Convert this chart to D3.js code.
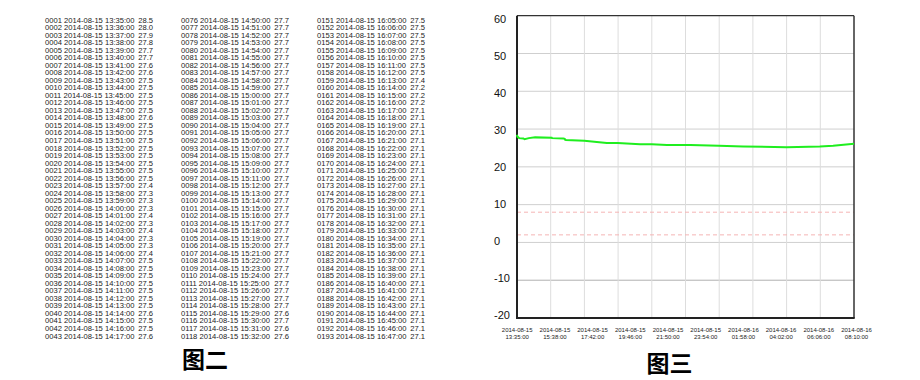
<!DOCTYPE html>
<html>
<head>
<meta charset="utf-8">
<script src="https://cdn.jsdelivr.net/npm/d3@7"></script>
<style>
  html, body { margin: 0; padding: 0; background: #fff; }
  svg { display: block; }
  .tbl { font-family: "Liberation Sans", Arial, sans-serif; font-size: 7.6px; fill: #222; }
  .ylab { font-family: "Liberation Sans", Arial, sans-serif; font-size: 11px; fill: #111; }
  .xlab { font-family: "Liberation Sans", Arial, sans-serif; font-size: 6px; fill: #222; }
  .cap { font-family: "Noto Sans CJK SC", sans-serif; font-size: 23px; font-weight: bold; fill: #000; }
</style>
</head>
<body>
<svg id="chart" width="920" height="380"></svg>
<script>
// ---------------- Data ----------------
// Left text listing (图二): three blocks of consecutive 1-minute readings
const tableStartIds = [1, 76, 151];
const tableStartTimes = ["2014-08-15 13:35:00", "2014-08-15 14:50:00", "2014-08-15 16:05:00"];
const tableValues1 = [28.5, 28.0, 27.9, 27.8, 27.7, 27.7, 27.6, 27.6, 27.5, 27.5,
                      27.5, 27.5, 27.5, 27.6, 27.5, 27.5, 27.5, 27.5, 27.5, 27.5,
                      27.5, 27.5, 27.4, 27.3, 27.3, 27.3, 27.4, 27.3, 27.4, 27.3,
                      27.3, 27.4, 27.5, 27.5, 27.5, 27.5, 27.5, 27.5, 27.5, 27.6,
                      27.5, 27.5, 27.6];
const tableValues2 = [27.7, 27.7, 27.7, 27.7, 27.7, 27.7, 27.7, 27.7, 27.7, 27.7,
                      27.7, 27.7, 27.7, 27.7, 27.7, 27.7, 27.7, 27.7, 27.7, 27.7,
                      27.7, 27.7, 27.7, 27.7, 27.7, 27.7, 27.7, 27.7, 27.7, 27.7,
                      27.7, 27.7, 27.7, 27.7, 27.7, 27.7, 27.7, 27.7, 27.7, 27.6,
                      27.7, 27.6, 27.6];
const tableValues3 = [27.5, 27.5, 27.5, 27.5, 27.5, 27.5, 27.5, 27.5, 27.4, 27.2,
                      27.2, 27.2, 27.1, 27.1, 27.1, 27.1, 27.1, 27.1, 27.1, 27.1,
                      27.1, 27.1, 27.1, 27.1, 27.1, 27.1, 27.1, 27.1, 27.1, 27.1,
                      27.1, 27.1, 27.1, 27.1, 27.1, 27.1, 27.1, 27.1, 27.1, 27.1,
                      27.1, 27.1, 27.1];

// Line chart (图三): readings estimated from the curve
const lineTimes = ["2014-08-15 13:35:00", "2014-08-15 13:36:00", "2014-08-15 13:42:00", "2014-08-15 13:56:00",
                   "2014-08-15 14:00:00", "2014-08-15 14:14:00", "2014-08-15 14:35:00", "2014-08-15 15:30:00",
                   "2014-08-15 15:31:00", "2014-08-15 16:08:00", "2014-08-15 16:13:00", "2014-08-15 16:14:00",
                   "2014-08-15 16:17:00", "2014-08-15 17:18:00", "2014-08-15 17:59:00", "2014-08-15 18:32:00",
                   "2014-08-15 19:08:00", "2014-08-15 20:22:00", "2014-08-15 21:01:00", "2014-08-15 21:51:00",
                   "2014-08-15 23:08:00", "2014-08-15 23:40:00", "2014-08-16 00:43:00", "2014-08-16 02:03:00",
                   "2014-08-16 04:27:00", "2014-08-16 06:17:00", "2014-08-16 07:01:00", "2014-08-16 08:10:00"];
const lineValues = [28.5, 28.0, 27.6, 27.5,
                    27.3, 27.6, 27.8, 27.7,
                    27.6, 27.5, 27.4, 27.2,
                    27.1, 26.9, 26.6, 26.3,
                    26.3, 26.0, 26.0, 25.8,
                    25.8, 25.7, 25.6, 25.4,
                    25.2, 25.4, 25.6, 26.1];
const thresholdValues = [8, 2];
const yTickValues = [60, 50, 40, 30, 20, 10, 0, -10, -20];
const xTickDates = ["2014-08-15", "2014-08-15", "2014-08-15", "2014-08-15", "2014-08-15",
                    "2014-08-15", "2014-08-16", "2014-08-16", "2014-08-16", "2014-08-16"];
const xTickTimes = ["13:35:00", "15:38:00", "17:42:00", "19:46:00", "21:50:00",
                    "23:54:00", "01:58:00", "04:02:00", "06:06:00", "08:10:00"];
const captions = ["图二", "图三"];

// ---------------- Drawing ----------------
const svg = d3.select("#chart");
const parse = d3.timeParse("%Y-%m-%d %H:%M:%S");
const fmt = d3.timeFormat("%Y-%m-%d %H:%M:%S");

// Text listing
const tableCols = [tableValues1, tableValues2, tableValues3];
const colX = d3.scalePoint().domain([0, 1, 2]).range([45, 317]);
const rowY = d3.scaleLinear().domain([0, 42]).range([22.7, 338.5]);
tableCols.forEach((vals, c) => {
  const g = svg.append("g").attr("class", "tbl");
  const t0 = parse(tableStartTimes[c]);
  const rows = vals.map((v, i) => ({
    id: d3.format("04d")(tableStartIds[c] + i),
    time: fmt(d3.timeMinute.offset(t0, i)),
    v: v, i: i
  }));
  g.selectAll("text.l").data(rows).join("text").attr("class", "l")
    .attr("x", colX(c)).attr("y", d => rowY(d.i))
    .text(d => d.id + " " + d.time);
  g.selectAll("text.v").data(rows).join("text").attr("class", "v")
    .attr("x", colX(c) + 93.3).attr("y", d => rowY(d.i))
    .text(d => d.v.toFixed(1));
});

// Line chart
const X0 = 517, X1 = 854, Y0 = 15.7, Y1 = 318;
const data = lineTimes.map((t, i) => ({ t: parse(t), v: lineValues[i] }));
const x = d3.scaleTime().domain(d3.extent(data, d => d.t)).range([X0, X1]);
const y = d3.scaleLinear().domain([-20, 60]).range([Y1, Y0]);
const gridX = d3.scaleLinear().domain([0, 10]).range([X0, X1]);
const yLab = d3.scaleLinear().domain([-20, 60]).range([315, 19.3]);
const xLab = d3.scalePoint().domain(d3.range(xTickTimes.length)).range([517.2, 856.5]);

const chart = svg.append("g");
// horizontal grid
chart.selectAll("line.hg").data(yTickValues.filter(v => v > -20 && v < 60)).join("line")
  .attr("class", "hg")
  .attr("x1", X0).attr("x2", X1).attr("y1", d => y(d)).attr("y2", d => y(d))
  .attr("stroke", d => d === -10 ? "#b0b0b0" : "#cfcfcf").attr("stroke-width", 1);
// vertical grid
chart.selectAll("line.vg").data(d3.range(1, 10)).join("line")
  .attr("class", "vg")
  .attr("x1", d => gridX(d)).attr("x2", d => gridX(d)).attr("y1", Y0).attr("y2", Y1)
  .attr("stroke", "#dddddd").attr("stroke-width", 1);
// threshold dashed lines
chart.selectAll("line.th").data(thresholdValues).join("line")
  .attr("class", "th")
  .attr("x1", X0).attr("x2", X1).attr("y1", d => y(d)).attr("y2", d => y(d))
  .attr("stroke", "#f5b4b4").attr("stroke-width", 1).attr("stroke-dasharray", "4,3");
// frame
chart.append("line").attr("x1", X0).attr("x2", X1).attr("y1", Y0).attr("y2", Y0)
  .attr("stroke", "#333").attr("stroke-width", 1.2);
chart.append("line").attr("x1", X1).attr("x2", X1).attr("y1", Y0).attr("y2", Y1)
  .attr("stroke", "#333").attr("stroke-width", 1.5);
chart.append("line").attr("x1", X0).attr("x2", X0).attr("y1", Y0).attr("y2", Y1 + 1)
  .attr("stroke", "#222").attr("stroke-width", 2);
chart.append("line").attr("x1", X0 - 1).attr("x2", X1 + 0.7).attr("y1", Y1).attr("y2", Y1)
  .attr("stroke", "#222").attr("stroke-width", 2);

// data line
chart.append("path").datum(data)
  .attr("d", d3.line().x(d => x(d.t)).y(d => y(d.v)))
  .attr("fill", "none").attr("stroke", "#1fee1f").attr("stroke-width", 2);

// y labels
chart.selectAll("text.ylab").data(yTickValues).join("text")
  .attr("class", "ylab").attr("x", 494).attr("y", d => yLab(d))
  .attr("dominant-baseline", "central").text(d => d);

// x labels
const xl = chart.selectAll("g.xl").data(xTickTimes.map((t, i) => ({ d: xTickDates[i], t: t, i: i })))
  .join("g").attr("class", "xl");
xl.append("text").attr("class", "xlab").attr("text-anchor", "middle")
  .attr("x", d => xLab(d.i)).attr("y", 331.5).text(d => d.d);
xl.append("text").attr("class", "xlab").attr("text-anchor", "middle")
  .attr("x", d => xLab(d.i)).attr("y", 339.2).text(d => d.t);

// captions
const capX = d3.scalePoint().domain(captions).range([205, 669.5]);
svg.selectAll("text.cap").data(captions).join("text")
  .attr("class", "cap").attr("text-anchor", "middle")
  .attr("x", d => capX(d)).attr("y", (d, i) => i === 0 ? 368 : 372)
  .text(d => d);
</script>
</body>
</html>
